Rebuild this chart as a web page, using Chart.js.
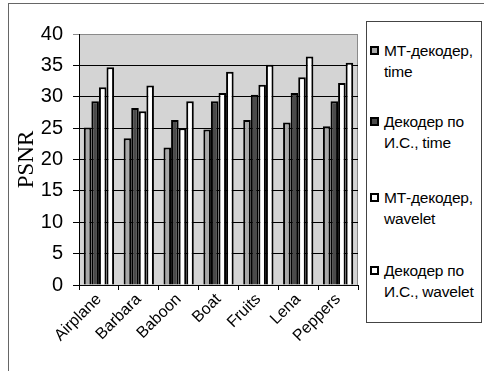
<!DOCTYPE html>
<html>
<head>
<meta charset="utf-8">
<script src="https://cdn.jsdelivr.net/npm/chart.js@4"></script>
<style>
    body { margin: 0; width: 484px; height: 371px; overflow: hidden; background: #fff; font-family: "Liberation Sans", Arial, sans-serif; }
    #frame { position: absolute; left: 8px; top: 3px; width: 600px; height: 500px; border: 1px solid #666; border-right: none; border-bottom: none; }
    #wrap { position: absolute; left: 0; top: 0; width: 366px; height: 371px; }
    #legend { position: absolute; left: 366px; top: 21px; width: 114px; height: 300px; border: 1px solid #444; background: #fff; }
    .item { position: absolute; left: 3px; font-size: 15.5px; line-height: 21px; color: #000; letter-spacing: -0.2px; }
    .mark { position: absolute; left: 0; top: 6px; width: 5px; height: 5px; border: 2px solid #000; }
    .txt { margin-left: 14px; white-space: nowrap; }
</style>
</head>
<body>
<div id="frame"></div>
<div id="wrap"><canvas id="myChart" width="366" height="371"></canvas></div>
<div id="legend"></div>
<script>
const categories = ['Airplane', 'Barbara', 'Baboon', 'Boat', 'Fruits', 'Lena', 'Peppers'];
const seriesNames = [
    ['МТ-декодер,', 'time'],
    ['Декодер по', 'И.С., time'],
    ['МТ-декодер,', 'wavelet'],
    ['Декодер по', 'И.С., wavelet']
];
const mtTime = [25.1, 23.4, 21.9, 24.8, 26.3, 25.9, 25.3];
const isTime = [29.3, 28.2, 26.3, 29.3, 30.3, 30.6, 29.3];
const mtWavelet = [31.5, 27.7, 25.0, 30.6, 31.9, 33.1, 32.2];
const isWavelet = [34.7, 31.8, 29.3, 34.0, 35.1, 36.4, 35.4];
const yTicks = [0, 5, 10, 15, 20, 25, 30, 35, 40];

const colors = ['#a8a8a8', '#4a4a4a', '#ffffff', '#ffffff'];
const allValues = [mtTime, isTime, mtWavelet, isWavelet];

// gray plot background
const plotBg = {
    id: 'plotBg',
    beforeDraw(chart) {
        const a = chart.chartArea;
        const ctx = chart.ctx;
        ctx.save();
        ctx.fillStyle = '#d4d4d4';
        ctx.fillRect(a.left, a.top, a.right - a.left, a.bottom - a.top);
        ctx.strokeStyle = '#8a8a8a';
        ctx.lineWidth = 1;
        ctx.beginPath();
        ctx.moveTo(a.left, a.top + 0.5);
        ctx.lineTo(a.right - 0.5, a.top + 0.5);
        ctx.lineTo(a.right - 0.5, a.bottom);
        ctx.stroke();
        ctx.restore();
    }
};

const datasets = allValues.map((vals, i) => ({
    label: seriesNames[i].join(' '),
    data: vals,
    backgroundColor: colors[i],
    borderColor: '#000',
    borderWidth: 2,
    borderSkipped: 'bottom'
}));

const ctx = document.getElementById('myChart').getContext('2d');
const chart = new Chart(ctx, {
    type: 'bar',
    data: { labels: categories, datasets: datasets },
    plugins: [plotBg],
    options: {
        responsive: false,
        animation: false,
        datasets: { bar: { categoryPercentage: 0.76, barPercentage: 1.0 } },
        layout: { padding: { left: 11, right: 8, top: 34, bottom: 0 } },
        plugins: {
            legend: { display: false },
            tooltip: { enabled: false }
        },
        scales: {
            x: {
                grid: { drawOnChartArea: false, drawTicks: true, tickLength: 5, color: '#000', offset: true },
                border: { color: '#000', width: 1 },
                ticks: {
                    color: '#000',
                    font: { family: 'Liberation Sans', size: 16 },
                    minRotation: 45,
                    maxRotation: 45,
                    padding: 0,
                    autoSkip: false
                },
                afterFit(scale) { scale.height = 86; }
            },
            y: {
                min: 0,
                max: 40,
                afterBuildTicks(scale) { scale.ticks = yTicks.map(v => ({ value: v })); },
                grid: {
                    color: c => (c.tick && c.tick.value === 40 ? '#8a8a8a' : '#000'),
                    lineWidth: 1,
                    tickLength: 6
                },
                border: { color: '#000', width: 1 },
                ticks: {
                    color: '#000',
                    font: { family: 'Liberation Sans', size: 20 },
                    padding: 10
                },
                title: {
                    display: true,
                    text: 'PSNR',
                    color: '#000',
                    font: { family: 'Liberation Serif', size: 23 },
                    padding: { top: 2, bottom: 0 }
                },
                afterFit(scale) { scale.width = 68; }
            }
        }
    }
});

// legend box, two lines per series
const legendDiv = document.getElementById('legend');
const itemTops = [18, 89, 165, 238];
seriesNames.forEach((lines, i) => {
    const item = document.createElement('div');
    item.className = 'item';
    item.style.top = itemTops[i] + 'px';
    item.innerHTML = `<div class="mark" style="background:${colors[i]}"></div><div class="txt">${lines[0]}<br>${lines[1]}</div>`;
    legendDiv.appendChild(item);
});
</script>
</body>
</html>
